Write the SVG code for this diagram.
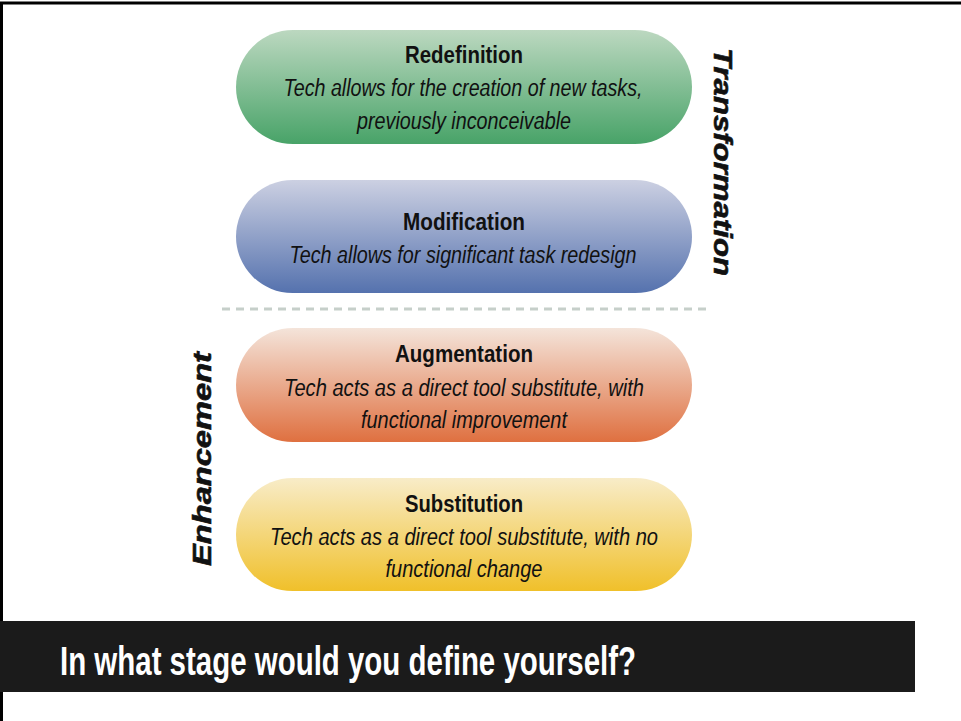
<svg xmlns="http://www.w3.org/2000/svg" width="961" height="721" viewBox="0 0 961 721">
<defs>
<linearGradient id="gGreen" x1="0" y1="0" x2="0" y2="1"><stop offset="0" stop-color="#bcd8c0"/><stop offset="1" stop-color="#48a368"/></linearGradient>
<linearGradient id="gBlue" x1="0" y1="0" x2="0" y2="1"><stop offset="0" stop-color="#ccd0e2"/><stop offset="1" stop-color="#5572ae"/></linearGradient>
<linearGradient id="gOrange" x1="0" y1="0" x2="0" y2="1"><stop offset="0" stop-color="#f4e4da"/><stop offset="1" stop-color="#df7040"/></linearGradient>
<linearGradient id="gYellow" x1="0" y1="0" x2="0" y2="1"><stop offset="0" stop-color="#f8ecc8"/><stop offset="1" stop-color="#f0c02a"/></linearGradient>
</defs>
<style>
.t{font-family:"Liberation Sans",Arial,sans-serif;font-weight:bold;font-size:23px;fill:#111;text-anchor:middle}
.s{font-family:"Liberation Sans",Arial,sans-serif;font-style:italic;font-size:23px;fill:#111;text-anchor:middle}
.side{font-family:"Liberation Sans",Arial,sans-serif;font-style:italic;font-weight:bold;font-size:25px;fill:#111;text-anchor:middle;stroke:#111;stroke-width:0.6}
.q{font-family:"Liberation Sans",Arial,sans-serif;font-weight:bold;font-size:40px;fill:#fff}
</style>
<rect x="0" y="0" width="961" height="721" fill="#fff"/>
<path d="M1.5 721 V3 H961" fill="none" stroke="#000" stroke-width="3"/>
<g id="redefinition">
<rect x="236" y="30" width="456" height="114" rx="57" fill="url(#gGreen)"/>
<text class="t" x="464" y="63" textLength="118" lengthAdjust="spacingAndGlyphs">Redefinition</text>
<text class="s" x="463" y="96" textLength="359" lengthAdjust="spacingAndGlyphs">Tech allows for the creation of new tasks,</text>
<text class="s" x="464" y="129" textLength="214" lengthAdjust="spacingAndGlyphs">previously inconceivable</text>
</g>
<g id="modification">
<rect x="236" y="180" width="456" height="113" rx="56.5" fill="url(#gBlue)"/>
<text class="t" x="464" y="230" textLength="122" lengthAdjust="spacingAndGlyphs">Modification</text>
<text class="s" x="463" y="263" textLength="347" lengthAdjust="spacingAndGlyphs">Tech allows for significant task redesign</text>
</g>
<g id="divider">
<line x1="222" y1="309" x2="708" y2="309" stroke="#c6cfca" stroke-width="3" stroke-dasharray="8 6"/>
</g>
<g id="augmentation">
<rect x="236" y="328" width="456" height="114" rx="57" fill="url(#gOrange)"/>
<text class="t" x="464" y="362" textLength="138" lengthAdjust="spacingAndGlyphs">Augmentation</text>
<text class="s" x="464" y="396" textLength="360" lengthAdjust="spacingAndGlyphs">Tech acts as a direct tool substitute, with</text>
<text class="s" x="464" y="428" textLength="206" lengthAdjust="spacingAndGlyphs">functional improvement</text>
</g>
<g id="substitution">
<rect x="236" y="478" width="456" height="113" rx="56.5" fill="url(#gYellow)"/>
<text class="t" x="464" y="512" textLength="118" lengthAdjust="spacingAndGlyphs">Substitution</text>
<text class="s" x="464" y="545" textLength="388" lengthAdjust="spacingAndGlyphs">Tech acts as a direct tool substitute, with no</text>
<text class="s" x="464" y="577" textLength="157" lengthAdjust="spacingAndGlyphs">functional change</text>
</g>
<g id="transformation">
<text class="side" transform="translate(714 162) rotate(90)" textLength="228" lengthAdjust="spacingAndGlyphs">Transformation</text>
</g>
<g id="enhancement">
<text class="side" transform="translate(211 459) rotate(-90)" textLength="214" lengthAdjust="spacingAndGlyphs">Enhancement</text>
</g>
<g id="question">
<rect x="0" y="621" width="915" height="71" fill="#1b1b1b"/>
<text class="q" x="60" y="675" textLength="576" lengthAdjust="spacingAndGlyphs">In what stage would you define yourself?</text>
</g>
</svg>
